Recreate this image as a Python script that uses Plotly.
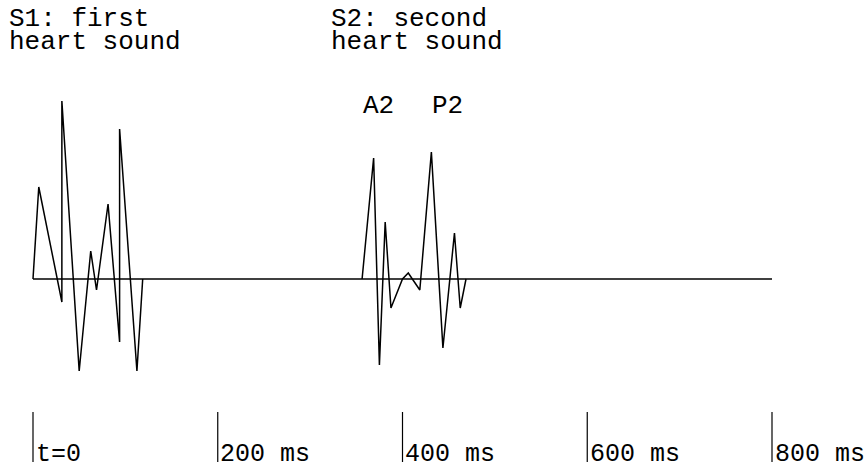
import plotly.graph_objects as go

# waveform samples (time in ms, amplitude in arbitrary units)
s1_t = [0, 6.25, 31.25, 31.25, 50, 62.5, 68.75, 81.25, 93.75, 93.75, 112.5, 118.75]
s1_y = [0, 92, -23, 178, -92, 28, -11, 75, -63, 150, -92, 0]
s2_t = [356.25, 368.75, 375, 381.25, 387.5, 400, 406.25, 418.75, 431.25, 443.75, 456.25, 462.5, 468.75]
s2_y = [0, 121, -86, 57, -29, 0, 6, -11, 127, -69, 46, -29, 0]

tick_t = [0, 200, 400, 600, 800]
tick_labels = ["t=0", "200 ms", "400 ms", "600 ms", "800 ms"]

FONT = "Courier New, Courier, Liberation Mono, monospace"
PX = 0.92375  # px per ms

fig = go.Figure()
line = dict(color="black", width=1.5)
fig.add_trace(go.Scatter(x=[tick_t[0], tick_t[-1]], y=[0, 0], mode="lines", line=line, hoverinfo="skip"))
fig.add_trace(go.Scatter(x=s1_t, y=s1_y, mode="lines", line=line))
fig.add_trace(go.Scatter(x=s2_t, y=s2_y, mode="lines", line=line))

tx, ty = [], []
for t in tick_t:
    tx += [t, t, None]
    ty += [-133, -183, None]
fig.add_trace(go.Scatter(x=tx, y=ty, mode="lines", line=dict(color="black", width=1.2), hoverinfo="skip"))

ann = []
for t, lab in zip(tick_t, tick_labels):
    ann.append(dict(x=t + 0.5 / PX, y=-175.5, text=lab, xanchor="left", yanchor="middle",
                    font=dict(family=FONT, size=25, color="black")))
big = dict(family=FONT, size=26, color="black")
ann += [
    dict(x=-28, y=260, text="S1: first", xanchor="left", yanchor="middle", font=big),
    dict(x=-28, y=237, text="heart sound", xanchor="left", yanchor="middle", font=big),
    dict(x=320.5, y=260, text="S2: second", xanchor="left", yanchor="middle", font=big),
    dict(x=320.5, y=237, text="heart sound", xanchor="left", yanchor="middle", font=big),
    dict(x=355, y=173, text="A2", xanchor="left", yanchor="middle", font=big),
    dict(x=430, y=173, text="P2", xanchor="left", yanchor="middle", font=big),
]
for a in ann:
    a.update(xref="x", yref="y", showarrow=False)

fig.update_layout(
    width=866, height=470,
    margin=dict(l=0, r=0, t=0, b=0),
    paper_bgcolor="white", plot_bgcolor="white",
    showlegend=False,
    annotations=ann,
    xaxis=dict(range=[-33 / PX, (866 - 33) / PX], visible=False, fixedrange=True),
    yaxis=dict(range=[-191, 279], visible=False, fixedrange=True),
)
fig.write_html(
    "out.html",
    config={"displayModeBar": False},
    post_script="document.body.style.margin='0';document.body.style.overflow='hidden';",
)
